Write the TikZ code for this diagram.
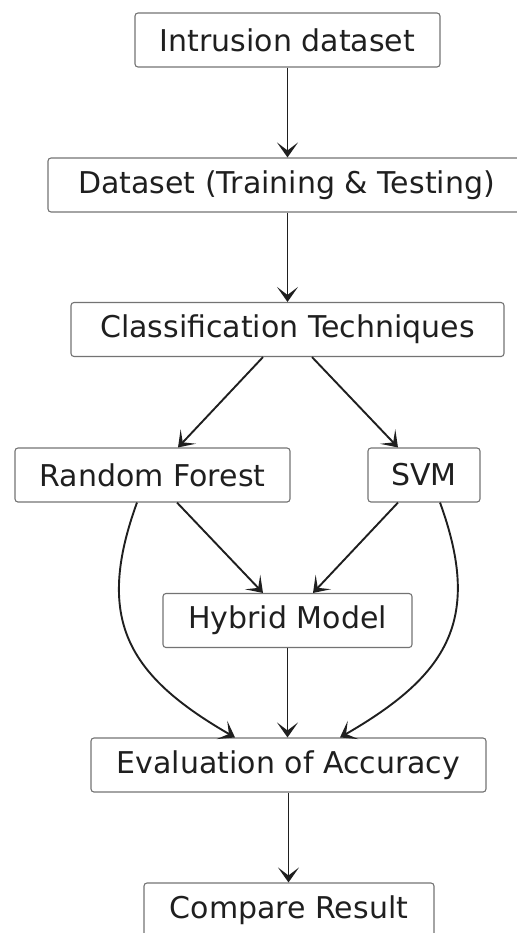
\documentclass[tikz,border=0pt]{standalone}
\usepackage{fontspec}
\setmainfont{DejaVu Sans}
\usetikzlibrary{positioning, calc, arrows.meta}

\begin{document}
\begin{tikzpicture}[x=0.5pt, y=-0.5pt,
    box/.style={draw=black!55, line width=0.55pt, rounded corners=1.5pt, minimum height=27pt, text=black!88, font=\fontsize{15}{18}\selectfont},
    flow/.style={-{Stealth[length=7.5pt, width=10.5pt, inset=4pt]}, draw=black!88, line width=0.95pt}]
			\useasboundingbox (0,0) rectangle (517,933);
			\node (n1) [box, minimum width=152.5pt] at (287.5,40) {Intrusion dataset};
			\node (n2) [box, minimum width=238.5pt] at (286.5,185) {Dataset (Training \& Testing)};
			\node (n3) [box, minimum width=216.5pt] at (287.5,329.5) {Classification Techniques};
			\node (n4) [box, minimum width=137.5pt] at (152.5,475) {Random Forest};
			\node (n5) [box, minimum width=56pt] at (424,475) {SVM};
			\node (n6) [box, minimum width=124.5pt] at (287.5,620.5) {Hybrid Model};
			\node (n7) [box, minimum width=197.5pt] at (288.5,765) {Evaluation of Accuracy};
			\node (n8) [box, minimum width=145pt] at (289,910) {Compare Result};
			
			\draw [flow] (n1) -- (n1 |- n2.north);
			\draw [flow] (n2.south -| n1) -- (n1 |- n3.north);
			\draw [flow] ($(n3.south)+(-24.5,0)$) -- ($(n4.north)+(25.5,0)$);
			\draw [flow] ($(n3.south)+(24.5,0)$) -- ($(n5.north)+(-26,0)$);
			
			\draw [flow] ($(n4.south)+(24.5,0)$) -- ($(n6.north)+(-24.5,0)$);
			\draw [flow] ($(n5.south)+(-26,0)$) -- ($(n6.north)+(25.5,0)$);
			\draw [flow] ($(n4.south)+(-15.5,0)$) to[out=-110, in=150, looseness=1.25] ($(n7.north)+(-53.5,0)$);
			\draw [flow] ($(n5.south)+(16,0)$) to[out=-70, in=30, looseness=1.25] ($(n7.north)+(51.5,0)$);
			\draw [flow] (n6) -- (n6 |- n7.north);
			\draw [flow] (n7) -- (n7 |- n8.north);
		\end{tikzpicture}
\end{document}
